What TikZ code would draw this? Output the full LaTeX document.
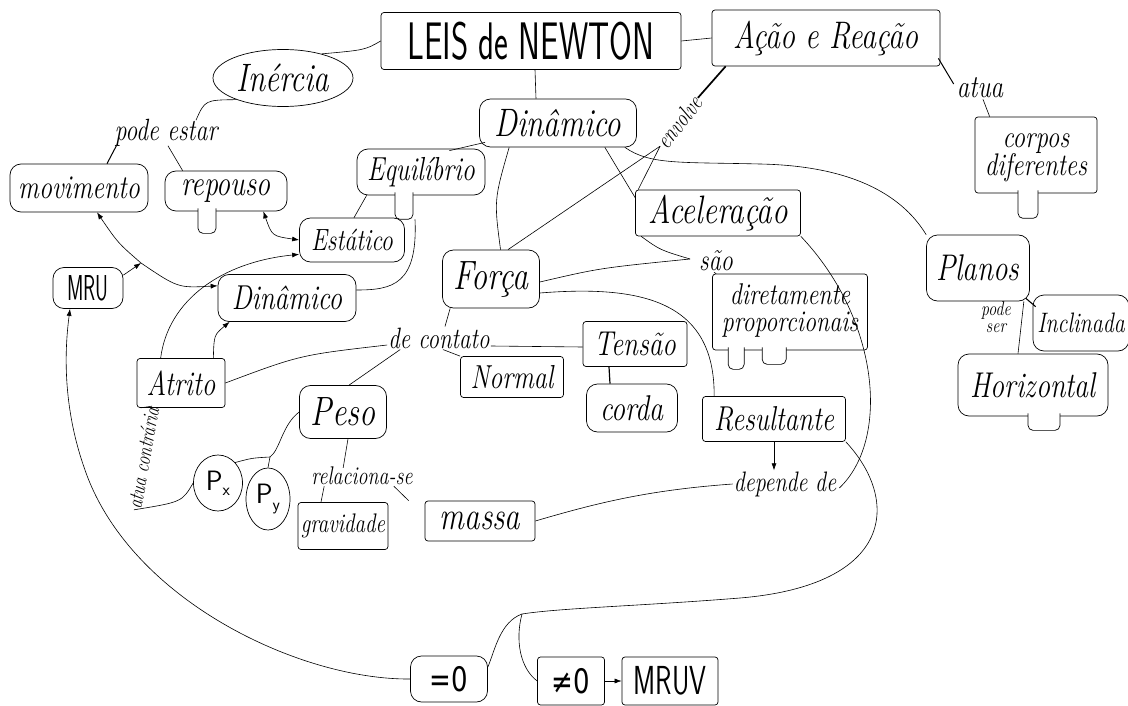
\documentclass[tikz,border=0pt]{standalone}
\usepackage{fontspec}
\usepackage{graphicx}
\newfontfamily\djv{DejaVu Sans}
\newcommand\hwt[1]{\scalebox{1}[1.28]{#1}}
\newcommand\hwtt[2]{\scalebox{1}[1.25]{\begin{tabular}{@{}c@{}}#1\\[-3pt]#2\end{tabular}}}
\usetikzlibrary{arrows.meta,shapes.geometric,calc}
\begin{document}
\begin{tikzpicture}[x=1pt,y=-1pt,
  hw/.style={font=\fontsize{#1}{#1}\selectfont\itshape},
  bx/.style={draw, line width=0.7pt, inner sep=1pt, rounded corners=3pt},
  blob/.style={bx, rounded corners=11pt},
  oval/.style={draw, line width=0.7pt, inner sep=1pt, ellipse},
  lbl/.style={inner sep=1pt},
  ln/.style={line width=0.6pt},
  ar/.style={ln, -{Latex[length=7pt,width=5pt]}},
  arr/.style={ln, {Latex[length=7pt,width=5pt]}-{Latex[length=7pt,width=5pt]}},
  drip/.style={fill=white, draw=black, line width=0.7pt, rounded corners=5pt}
]
\useasboundingbox (0,0) rectangle (1128,706);
\fill[white] (0,0) rectangle (1128,706);

% ---------- nodes ----------
\node[bx, minimum width=300, minimum height=57] (leis) at (531,41)
  {\scalebox{1}[1.6]{\sffamily\fontsize{33}{33}\selectfont LEIS de NEWTON}};
\node[bx, minimum width=228, minimum height=56, hw=30] (acao) at (826,38) {\hwt{Ação e Reação}};
\node[oval, minimum width=140, minimum height=57, hw=31] (inercia) at (283,78) {\hwt{Inércia}};
\node[lbl, hw=24] (podeestar) at (166,133) {\hwt{pode estar}};
\node[blob, minimum width=138, minimum height=48, hw=26] (movimento) at (79,188) {\hwt{movimento}};
\node[blob, minimum width=122, minimum height=40, hw=28] (repouso) at (226,191) {\hwt{repouso}};
\node[blob, minimum width=128, minimum height=46, hw=26] (equilibrio) at (421,172) {\hwt{Equilíbrio}};
\node[blob, minimum width=105, minimum height=44, hw=24] (estatico) at (352,240) {\hwt{Estático}};
\node[blob, minimum width=157, minimum height=48, hw=31] (dinTop) at (558,123) {\hwt{Dinâmico}};
\node[blob, minimum width=138, minimum height=47, hw=27] (dinLeft) at (287,298) {\hwt{Dinâmico}};
\node[blob, minimum width=70, minimum height=41] (mru) at (88,288)
  {\scalebox{1}[1.8]{\sffamily\fontsize{20}{20}\selectfont MRU}};
\node[bx, minimum width=165, minimum height=46, hw=31] (acel) at (718,213) {\hwt{Aceleração}};
\node[blob, minimum width=97, minimum height=58, hw=32] (forca) at (491,279) {\hwt{Força}};
\node[lbl, hw=24] (sao) at (716,261) {\hwt{são}};
\node[bx, minimum width=155, minimum height=76, hw=24] (dirprop) at (790,312)
  {\hwtt{diretamente}{proporcionais}};
\node[blob, minimum width=103, minimum height=66, hw=29] (planos) at (978,268) {\hwt{Planos}};
\node[lbl, hw=16] (podeser) at (996,320) {\hwtt{pode}{ser}};
\node[blob, minimum width=96, minimum height=56, hw=22] (inclinada) at (1081,323) {\hwt{Inclinada}};
\node[blob, minimum width=150, minimum height=62, hw=28] (horizontal) at (1033,385) {\hwt{Horizontal}};
\node[lbl, hw=25] (atua) at (980,88) {\hwt{atua}};
\node[bx, minimum width=122, minimum height=76, hw=25] (corpos) at (1036,155)
  {\hwtt{corpos}{diferentes}};
\node[lbl, hw=19, rotate=52] (envolve) at (679,122) {\hwt{envolve}};
\node[bx, minimum width=88, minimum height=49, hw=27] (atrito) at (181,383) {\hwt{Atrito}};
\node[lbl, hw=23] (decontato) at (439,338) {\hwt{de contato}};
\node[bx, minimum width=103, minimum height=41, hw=26] (normal) at (512,377) {\hwt{Normal}};
\node[bx, minimum width=104, minimum height=45, hw=27] (tensao) at (635,344) {\hwt{Tensão}};
\node[blob, minimum width=91, minimum height=48, hw=28] (corda) at (632,408) {\hwt{corda}};
\node[blob, minimum width=87, minimum height=53, hw=32] (peso) at (343,412) {\hwt{Peso}};
\node[oval, minimum width=49, minimum height=56] (px) at (218,483)
  {\sffamily\fontsize{28}{28}\selectfont P\raisebox{-5pt}{\fontsize{17}{17}\selectfont x}};
\node[oval, minimum width=44, minimum height=62] (py) at (268,499)
  {\sffamily\fontsize{28}{28}\selectfont P\raisebox{-7pt}{\fontsize{17}{17}\selectfont y}};
\node[lbl, hw=20] (relaciona) at (362,476) {\hwt{relaciona-se}};
\node[bx, minimum width=90, minimum height=47, hw=21] (gravidade) at (343,526) {\hwt{gravidade}};
\node[bx, minimum width=110, minimum height=40, hw=31] (massa) at (480,521) {\hwt{massa}};
\node[bx, minimum width=143, minimum height=45, hw=27] (resultante) at (774,419) {\hwt{Resultante}};
\node[lbl, hw=22] (depende) at (785,484) {\hwt{depende de}};
\node[lbl, hw=17, rotate=80] (contraria) at (143,458) {\hwt{atua contrária}};
\node[blob, minimum width=77, minimum height=46] (eq0) at (449,679)
  {\scalebox{1}[1.3]{\djv\fontsize{26}{26}\selectfont =0}};
\node[bx, minimum width=67, minimum height=48] (ne0) at (571,681)
  {\scalebox{1}[1.3]{\djv\fontsize{26}{26}\selectfont ≠0}};
\node[bx, minimum width=96, minimum height=48] (mruv) at (670,681)
  {\scalebox{1}[1.5]{\sffamily\fontsize{27}{27}\selectfont MRUV}};

% ---------- drips of the hand-drawn boxes ----------
\path[drip] ($(repouso.south)+(-28,-3)$) -- ++(0,25) -- ++(18,0) -- ++(0,-25);
\path[drip] ($(equilibrio.south)+(-26,-3)$) -- ++(0,27) -- ++(18,0) -- ++(0,-27);
\path[drip] ($(corpos.south)+(-18,-3)$) -- ++(0,28) -- ++(20,0) -- ++(0,-28);
\path[drip] ($(horizontal.south)+(-5,-3)$) -- ++(0,17) -- ++(32,0) -- ++(0,-17);
\path[drip] ($(dirprop.south west)+(16,-3)$) -- ++(0,22) -- ++(16,0) -- ++(0,-22);
\path[drip] ($(dirprop.south west)+(50,-3)$) -- ++(0,17) -- ++(24,0) -- ++(0,-17);

% ---------- connectors ----------
\draw[ln] (leis.west) .. controls (365,50) .. (inercia.32);
\draw[ln] (leis.east) -- (acao.west);
\draw[ln] ($(leis.south)+(4,0)$) -- ($(dinTop.north)+(-22,0)$);
\draw[ln] (inercia.205) .. controls (205,100) .. ($(podeestar.north)+(30,2)$);
\draw[line width=1pt] ($(podeestar.south west)+(3,-2)$) -- ($(movimento.north)+(28,0)$);
\draw[ln] ($(podeestar.south)+(2,-2)$) -- ($(repouso.north west)+(18,0)$);
\draw[arr] ($(repouso.south east)+(-24,0)$) .. controls (272,236) .. (estatico.west);

\coordinate (j) at (141,263);
\draw[ar] (mru.20) -- (j);
\draw[ar] (j) .. controls (118,243) .. ($(movimento.south)+(18,0)$);
\draw[ar] (j) .. controls (178,288) .. (dinLeft.170);

\draw[ar] ($(atrito.north west)+(24,0)$) .. controls (168,300) and (222,262) .. ($(estatico.south west)+(0,-8)$);
\draw[ar] ($(atrito.north east)+(-12,0)$) .. controls (214,335) .. ($(dinLeft.south west)+(12,0)$);
\draw[ln] (atrito.east) .. controls (300,355) .. ($(decontato.west)+(0,7)$);

\draw[ln] ($(dinTop.south west)+(6,-5)$) -- ($(equilibrio.north east)+(-36,2)$);
\draw[ln] ($(equilibrio.south west)+(10,0)$) -- ($(estatico.north)+(2,0)$);
\draw[ln] ($(equilibrio.south)+(-6,24)$) .. controls (418,285) and (392,290) .. ($(dinLeft.east)+(0,-8)$);

\draw[ln] ($(dinTop.south west)+(30,0)$) .. controls (494,200) .. (forca.72);
\draw[ln] ($(dinTop.south east)+(-32,0)$) -- ($(acel.north west)+(0,8)$);
\draw[ln] ($(dinTop.south east)+(-12,0)$) .. controls (650,165) and (680,162) .. (760,164)
  .. controls (860,166) and (905,200) .. (planos.north west);

\draw[line width=1.7pt] ($(acao.south west)+(14,0)$) -- (envolve.east);
\draw[ln] (envolve.west) -- (forca.60);
\draw[ln] (envolve.west) -- ($(acel.north west)+(3,0)$);

\coordinate (p) at (690,259);
\draw[ln] ($(forca.east)+(0,3)$) .. controls (600,268) .. (p);
\draw[ln] ($(acel.south west)+(6,0)$) .. controls (660,250) .. (p);
\draw[ln] ($(sao.south)+(-2,0)$) -- ($(dirprop.north west)+(4,0)$);

\draw[ln] ($(forca.east)+(0,14)$) .. controls (640,285) and (715,300) .. ($(resultante.north west)+(12,0)$);
\draw[ln] (acel.south east) .. controls (880,320) and (890,440) .. ($(depende.east)+(2,4)$);
\draw[ar] (resultante.south) -- (resultante.south |- depende.north);
\draw[ln] (depende.west) .. controls (650,490) and (600,502) .. (massa.east);

\coordinate (br) at (522,614);
\draw[ln] (resultante.south east) .. controls (900,500) and (895,585) .. (740,598)
  .. controls (640,606) and (560,608) .. (br);
\draw[ln] (br) .. controls (500,622) and (495,650) .. ($(eq0.east)+(0,-12)$);
\draw[ln] (br) .. controls (515,640) and (520,668) .. (ne0.west);
\draw[ar] (ne0.east) -- (mruv.west);
\draw[ar] (eq0.west) .. controls (300,680) and (130,600) .. (85,470)
  .. controls (60,400) and (66,340) .. ($(mru.south)+(-18,0)$);

\draw[ln] ($(forca.south west)+(8,0)$) -- ($(decontato.north)+(6,0)$);
\draw[ln] ($(decontato.south)+(4,0)$) -- (normal.north west);
\draw[ln] ($(decontato.east)+(0,8)$) -- ($(tensao.west)+(0,3)$);
\draw[line width=1.2pt] ($(tensao.south)+(-26,0)$) -- ($(corda.north)+(-22,0)$);
\draw[ln] ($(decontato.south west)+(13,0)$) -- ($(peso.north)+(6,0)$);

\coordinate (jp) at (270,457);
\draw[ln] (peso.west) .. controls (282,425) and (280,450) .. (jp);
\draw[ln] (jp) .. controls (252,458) .. (px.50);
\draw[ln] (jp) -- (py.north);
\draw[ln] ($(peso.south)+(5,0)$) -- ($(relaciona.north west)+(33,2)$);
\draw[ln] ($(relaciona.south west)+(14,0)$) -- ($(gravidade.north)+(-22,0)$);
\draw[ln] ($(relaciona.south east)+(-20,0)$) -- ($(massa.north west)+(-16,0)$);

\draw[ln] (px.west) .. controls (182,502) .. (contraria.west);
\draw[ln] (contraria.east) -- ($(atrito.south west)+(4,0)$);

\draw[ln] ($(planos.south east)+(-6,0)$) -- ($(horizontal.north)+(-15,0)$);
\draw[line width=1.1pt] ($(planos.south east)+(-4,-3)$) -- ($(inclinada.north west)+(3,12)$);
\draw[line width=1pt] ($(acao.south east)+(-2,-8)$) -- ($(atua.west)+(-2,-4)$);
\draw[ln] ($(atua.south)+(3,0)$) -- ($(corpos.north west)+(15,0)$);
\end{tikzpicture}
\end{document}
